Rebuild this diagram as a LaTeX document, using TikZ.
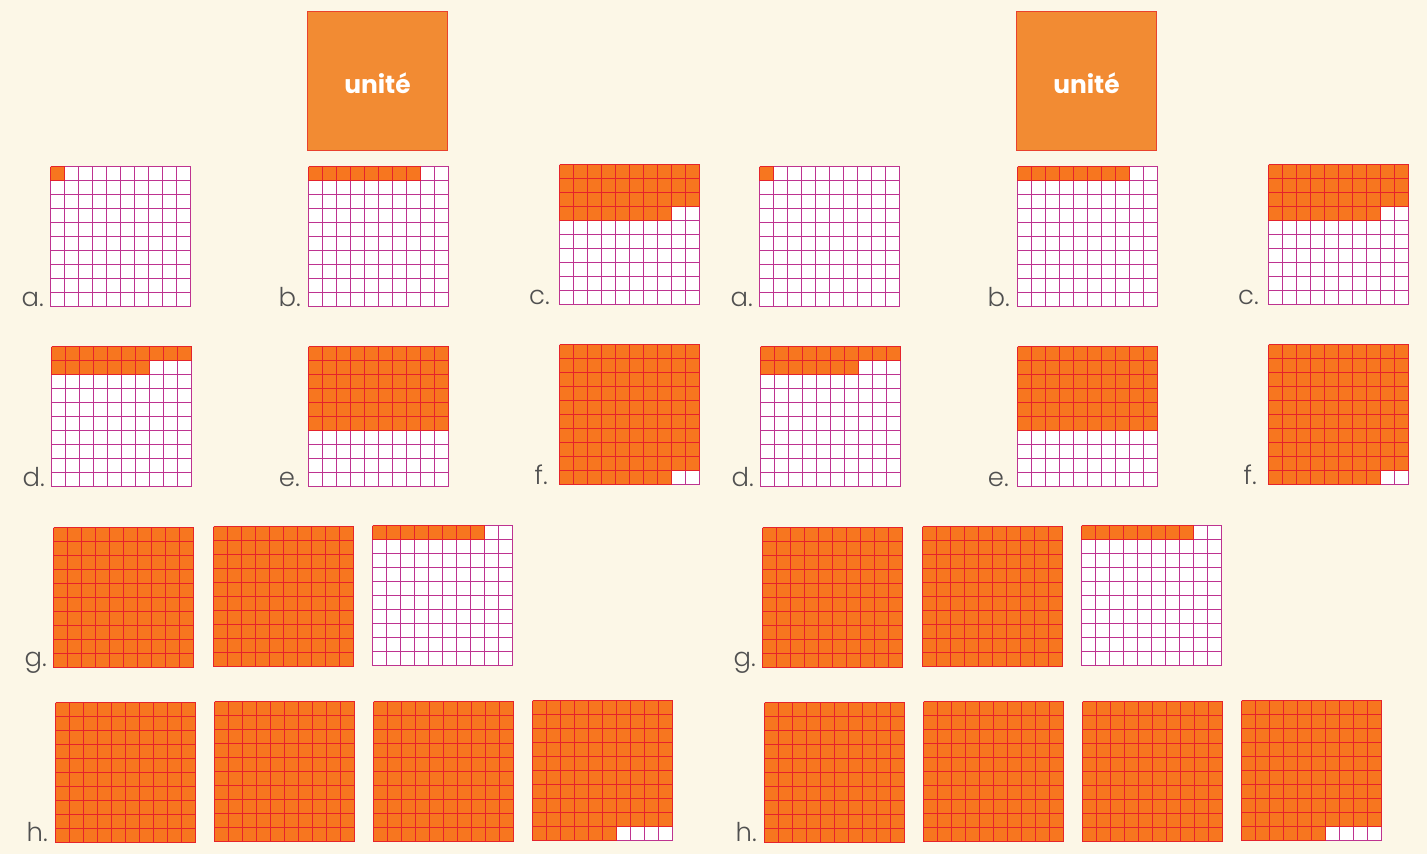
\documentclass[tikz,border=0pt]{standalone}
\usepackage{fontspec}
\setmainfont{Poppins}
\newfontfamily\labfont{Poppins}[UprightFont={* Light}]
\definecolor{bg}{HTML}{FCF7E7}
\definecolor{org}{HTML}{F7761F}
\definecolor{redl}{HTML}{E5232B}
\definecolor{magl}{HTML}{BE3390}
\definecolor{unitc}{HTML}{F28B33}
\definecolor{labc}{HTML}{505050}
\tikzset{
  magline/.style={magl,line width=1.6bp},
  redline/.style={redl,line width=1.6bp},
  lab/.style={anchor=base east,text=labc,inner sep=0pt,font=\labfont\fontsize{26}{26}\selectfont},
  unitbox/.style={fill=unitc,draw=redl!70!unitc,line width=1bp},
  unittext/.style={text=white,inner sep=0pt,font=\bfseries\fontsize{25}{25}\selectfont}
}
% #1,#2 top-left ; #3 full shaded rows ; #4 shaded cells in next row
\newcommand{\hgrid}[4]{%
\begin{scope}[shift={(#1+1.5,#2+1.5)}]
  \fill[white] (0,0) rectangle (140,140);
  \ifnum#3>0 \fill[org] (0,0) rectangle (140,{#3*14});\fi
  \ifnum#4>0 \fill[org] (0,{#3*14}) rectangle ({#4*14},{(#3+1)*14});\fi
  \foreach \i in {0,...,10}{
    \draw[magline] ({\i*14},0) -- ({\i*14},140);
    \draw[magline] (0,{\i*14}) -- (140,{\i*14});
  }
  \ifnum#3>0
    \foreach \i in {0,...,10}{\draw[redline] ({\i*14},0) -- ({\i*14},{#3*14});}
    \foreach \j in {0,...,#3}{\draw[redline] (0,{\j*14}) -- (140,{\j*14});}
  \fi
  \ifnum#4>0
    \foreach \i in {0,...,#4}{\draw[redline] ({\i*14},{#3*14}) -- ({\i*14},{(#3+1)*14});}
    \draw[redline] (0,{#3*14}) -- ({#4*14},{#3*14});
    \draw[redline] (0,{(#3+1)*14}) -- ({#4*14},{(#3+1)*14});
  \fi
\end{scope}}
% #1 x offset, #2 name suffix
\newcommand{\panel}[2]{%
  \draw[unitbox] ({#1+307.5},11.5) rectangle ({#1+447.5},150.5);
  \node[unittext] (unite#2) at ({#1+377.5},83) {unité};
  \hgrid{#1+49}{165}{0}{1}
  \node[lab] (la#2) at ({#1+44},306) {a.};
  \hgrid{#1+307}{165}{0}{8}
  \node[lab] (lb#2) at ({#1+301},306) {b.};
  \hgrid{#1+558}{163}{3}{8}
  \node[lab] (lc#2) at ({#1+550},304) {c.};
  \hgrid{#1+50}{345}{1}{7}
  \node[lab] (ld#2) at ({#1+45},486) {d.};
  \hgrid{#1+307}{345}{6}{0}
  \node[lab] (le#2) at ({#1+300},486) {e.};
  \hgrid{#1+558}{343}{9}{8}
  \node[lab] (lf#2) at ({#1+548},484) {f.};
  \hgrid{#1+52}{526}{10}{0}
  \hgrid{#1+212}{525}{10}{0}
  \hgrid{#1+371}{524}{0}{8}
  \node[lab] (lg#2) at ({#1+47},666) {g.};
  \hgrid{#1+54}{701}{10}{0}
  \hgrid{#1+213}{700}{10}{0}
  \hgrid{#1+372}{700}{10}{0}
  \hgrid{#1+531}{699}{9}{6}
  \node[lab] (lh#2) at ({#1+48},841) {h.};
}
\begin{document}
\begin{tikzpicture}[x=1bp,y=-1bp]
  \useasboundingbox (0,0) rectangle (1427,854);
  \fill[bg] (0,0) rectangle (1427,854);
  \panel{0}{L}
  \panel{709}{R}
\end{tikzpicture}
\end{document}
